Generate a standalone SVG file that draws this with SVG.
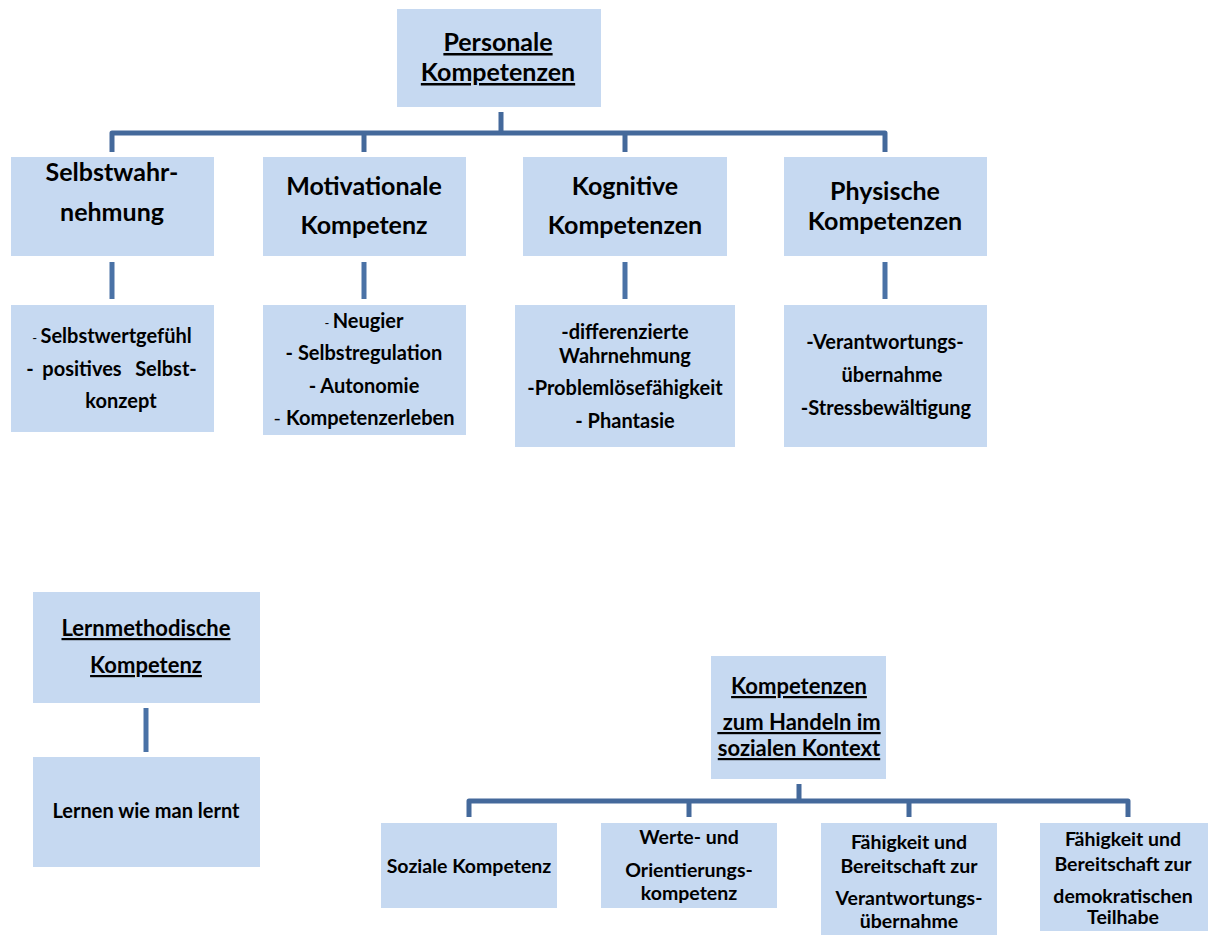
<svg xmlns="http://www.w3.org/2000/svg" width="1212" height="935" viewBox="0 0 1212 935">
<style>
.box{fill:#C6D9F1}
text{font-family:Lato,"Open Sans","Liberation Sans",sans-serif;font-weight:bold;fill:#000;text-anchor:middle}
.h1{font-size:25px}
.h2{font-size:25px}
.t{font-size:20px}
.m{font-size:22px}
.s{font-size:19.5px}
.u{text-decoration:underline}
.d{font-weight:normal;font-size:13px}
.c{stroke:#44699B;stroke-width:5;fill:none;stroke-linejoin:round}
.v{stroke:#4A72A6;stroke-width:5;fill:none}
</style>
<rect width="1212" height="935" fill="#fff"/>
<g id="connectors">
<path class="c" d="M501,112 V133 M112,152 V133 H885 V152 M364,133 V152 M625,133 V152"/>
<path class="v" d="M112,262 V299 M364,262 V299 M625,262 V299 M885,262 V299"/>
<path class="v" d="M146,708 V752"/>
<path class="c" d="M799,784 V801 M469,817 V801 H1128 V817 M689,801 V817 M909,801 V817"/>
</g>
<g id="personale">
<rect class="box" x="397" y="9" width="204" height="98"/>
<text class="h1 u" x="498" y="51">Personale</text>
<text class="h1 u" x="498" y="81">Kompetenzen</text>
</g>
<g id="selbstwahrnehmung">
<rect class="box" x="11" y="157" width="203" height="99"/>
<text class="h2" x="112" y="181">Selbstwahr-</text>
<text class="h2" x="112" y="221">nehmung</text>
</g>
<g id="motivationale">
<rect class="box" x="263" y="157" width="203" height="99"/>
<text class="h2" x="364" y="195">Motivationale</text>
<text class="h2" x="364" y="234">Kompetenz</text>
</g>
<g id="kognitive">
<rect class="box" x="523" y="157" width="204" height="99"/>
<text class="h2" x="625" y="195">Kognitive</text>
<text class="h2" x="625" y="234">Kompetenzen</text>
</g>
<g id="physische">
<rect class="box" x="784" y="157" width="203" height="99"/>
<text class="h2" x="885" y="200">Physische</text>
<text class="h2" x="885" y="230">Kompetenzen</text>
</g>
<g id="selbst-details">
<rect class="box" x="11" y="305" width="203" height="127"/>
<text class="t" x="112" y="343"><tspan class="d">- </tspan>Selbstwertgefühl</text>
<text class="t" x="30" y="376">-</text>
<text class="t" x="82" y="376">positives</text>
<text class="t" x="166" y="376">Selbst-</text>
<text class="t" x="121" y="408">konzept</text>
</g>
<g id="motiv-details">
<rect class="box" x="263" y="305" width="203" height="130"/>
<text class="t" x="364" y="328"><tspan class="d">- </tspan>Neugier</text>
<text class="t" x="364" y="360">- Selbstregulation</text>
<text class="t" x="364" y="393">- Autonomie</text>
<text class="t" x="364" y="425"><tspan style="font-weight:normal">- </tspan>Kompetenzerleben</text>
</g>
<g id="kogn-details">
<rect class="box" x="515" y="305" width="220" height="142"/>
<text class="t" x="625" y="339">-differenzierte</text>
<text class="t" x="625" y="363">Wahrnehmung</text>
<text class="t" x="625" y="395">-Problemlösefähigkeit</text>
<text class="t" x="625" y="428">- Phantasie</text>
</g>
<g id="phys-details">
<rect class="box" x="784" y="305" width="203" height="142"/>
<text class="t" x="885" y="349">-Verantwortungs-</text>
<text class="t" x="892" y="382">übernahme</text>
<text class="t" x="886" y="415">-Stressbewältigung</text>
</g>
<g id="lernmethodische">
<rect class="box" x="33" y="592" width="227" height="111"/>
<text class="m u" x="146" y="636">Lernmethodische</text>
<text class="m u" x="146" y="673">Kompetenz</text>
</g>
<g id="lernen">
<rect class="box" x="33" y="757" width="227" height="110"/>
<text class="t" x="146" y="818">Lernen wie man lernt</text>
</g>
<g id="sozialer-kontext">
<rect class="box" x="711" y="656" width="175" height="123"/>
<text class="m u" x="799" y="694">Kompetenzen</text>
<text class="m u" x="799" y="730" xml:space="preserve"> zum Handeln im</text>
<text class="m u" x="799" y="756">sozialen Kontext</text>
</g>
<g id="soziale">
<rect class="box" x="381" y="823" width="176" height="85"/>
<text class="s" x="469" y="873">Soziale Kompetenz</text>
</g>
<g id="werte">
<rect class="box" x="601" y="823" width="176" height="85"/>
<text class="s" x="689" y="844">Werte- und</text>
<text class="s" x="689" y="877">Orientierungs-</text>
<text class="s" x="689" y="900">kompetenz</text>
</g>
<g id="verantwortung">
<rect class="box" x="821" y="823" width="176" height="112"/>
<text class="s" x="909" y="849">Fähigkeit und</text>
<text class="s" x="909" y="873">Bereitschaft zur</text>
<text class="s" x="909" y="905">Verantwortungs-</text>
<text class="s" x="909" y="928">übernahme</text>
</g>
<g id="teilhabe">
<rect class="box" x="1040" y="823" width="168" height="108"/>
<text class="s" x="1123" y="846">Fähigkeit und</text>
<text class="s" x="1123" y="871">Bereitschaft zur</text>
<text class="s" x="1123" y="903">demokratischen</text>
<text class="s" x="1123" y="924">Teilhabe</text>
</g>
</svg>
